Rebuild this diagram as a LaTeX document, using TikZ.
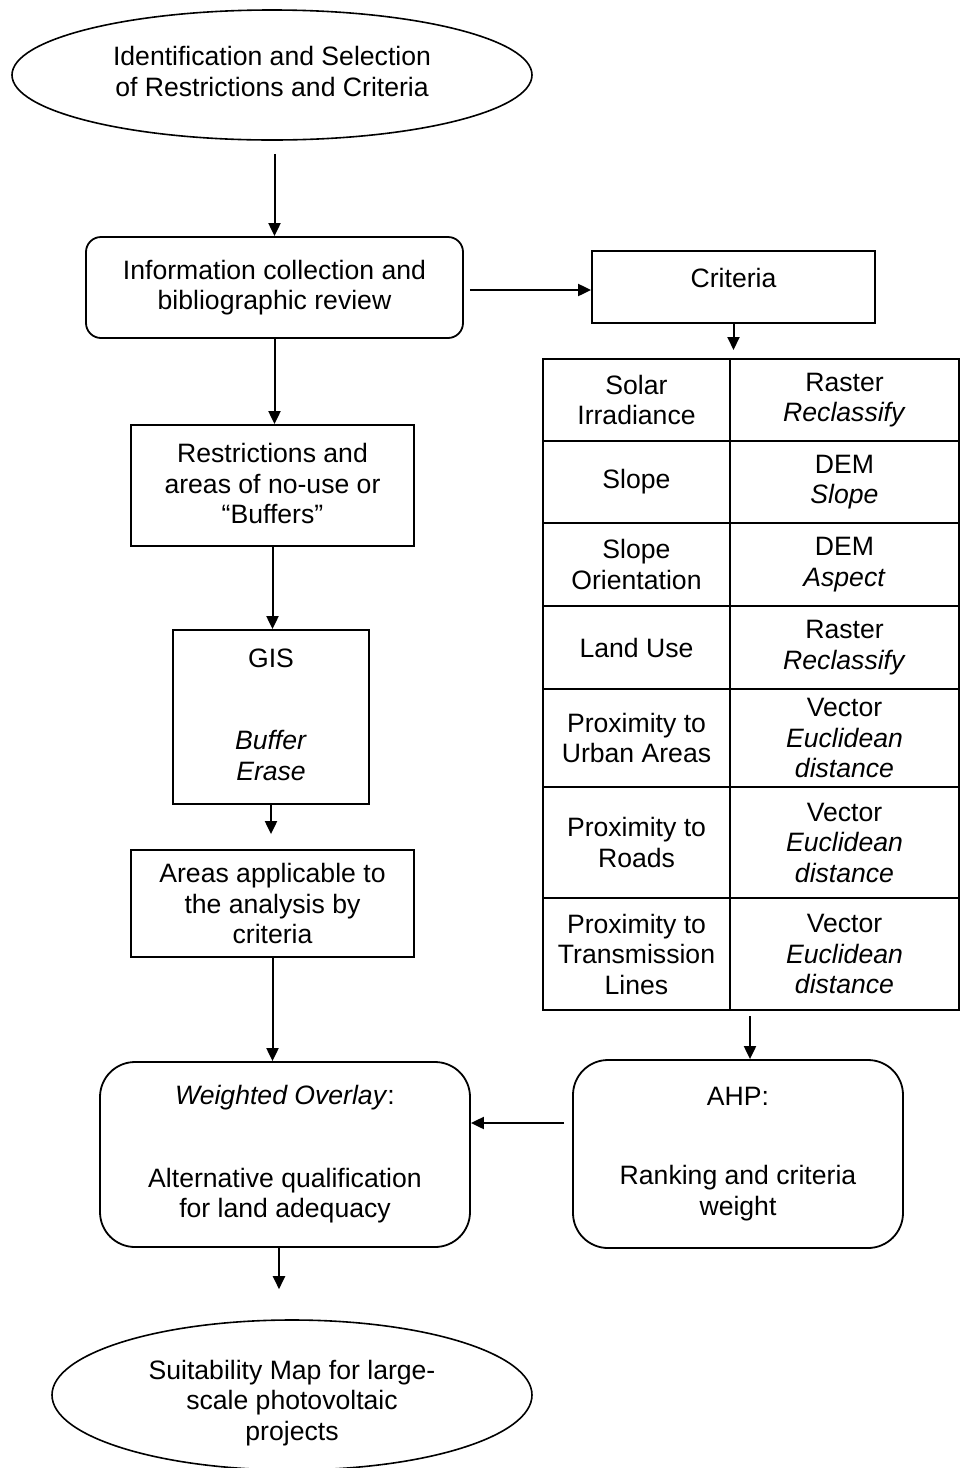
\documentclass[tikz,border=0pt]{standalone}
\usepackage{fontspec}
\setmainfont{Liberation Sans}
\usetikzlibrary{shapes.geometric,arrows.meta}
\begin{document}
\begin{tikzpicture}[x=1pt,y=-1pt,
  every node/.style={font=\fontsize{26.6}{30.5}\selectfont, align=center, inner sep=0pt},
  box/.style={draw, line width=1.8pt, rectangle},
  rbox/.style={box, rounded corners=#1},
  oval/.style={draw, line width=1.6pt, ellipse},
  cell/.style={draw, line width=2pt, rectangle, inner sep=0pt},
  cola/.style={cell, minimum width=187pt},
  colb/.style={cell, minimum width=229pt},
  arr/.style={line width=2pt, -{Triangle[length=13pt,width=12pt]}},
]
\useasboundingbox (0,0) rectangle (961,1468);

% left column
\node[oval, minimum width=520pt, minimum height=130pt, text depth=7pt] (top) at (272,75)
  {Identification and Selection\\of Restrictions and Criteria};
\node[rbox=15pt, minimum width=377pt, minimum height=101pt] (info) at (274.5,287.5)
  {Information collection and\\bibliographic review};
\node[box, minimum width=283pt, minimum height=72pt, text depth=18pt] (crit) at (733.5,287)
  {Criteria};
\node[box, minimum width=283pt, minimum height=121pt, text depth=4pt] (restr) at (272.5,485.5)
  {Restrictions and\\areas of no-use or\\“Buffers”};
\node[box, minimum width=196pt, minimum height=174pt, text depth=5pt] (gis) at (271,717)
  {GIS\\[52pt]\textit{Buffer}\\\textit{Erase}};
\node[box, minimum width=283pt, minimum height=107pt] (areas) at (272.5,903.5)
  {Areas applicable to\\the analysis by\\criteria};
\node[rbox=35pt, minimum width=370pt, minimum height=185pt] (wo) at (285,1154.5)
  {\textit{Weighted Overlay}:\\[52pt]Alternative qualification\\for land adequacy};
\node[rbox=35pt, minimum width=330pt, minimum height=188pt] (ahp) at (738,1154)
  {AHP:\\[49pt]Ranking and criteria\\weight};
\node[oval, minimum width=480pt, minimum height=150pt] (suit) at (292,1395)
  {\rule{0pt}{35pt}Suitability Map for large-\\scale photovoltaic\\projects};

% table
\node[cola, minimum height=82pt] (r1c1) at (636.5,400) {Solar\\Irradiance};
\node[colb, minimum height=82pt] (r1c2) at (844.5,400) {Raster\\\textit{Reclassify}};
\node[cola, minimum height=82pt] (r2c1) at (636.5,482) {Slope};
\node[colb, minimum height=82pt] (r2c2) at (844.5,482) {DEM\\\textit{Slope}};
\node[cola, minimum height=83pt] (r3c1) at (636.5,564.5) {Slope\\Orientation};
\node[colb, minimum height=83pt] (r3c2) at (844.5,564.5) {DEM\\\textit{Aspect}};
\node[cola, minimum height=83pt] (r4c1) at (636.5,647.5) {Land Use};
\node[colb, minimum height=83pt] (r4c2) at (844.5,647.5) {Raster\\\textit{Reclassify}};
\node[cola, minimum height=98pt] (r5c1) at (636.5,738) {Proximity to\\Urban Areas};
\node[colb, minimum height=98pt] (r5c2) at (844.5,738) {Vector\\\textit{Euclidean}\\\textit{distance}};
\node[cola, minimum height=111pt] (r6c1) at (636.5,842.5) {Proximity to\\Roads};
\node[colb, minimum height=111pt] (r6c2) at (844.5,842.5) {Vector\\\textit{Euclidean}\\\textit{distance}};
\node[cola, minimum height=112pt] (r7c1) at (636.5,954) {Proximity to\\Transmission\\Lines};
\node[colb, minimum height=112pt] (r7c2) at (844.5,954) {Vector\\\textit{Euclidean}\\\textit{distance}};

% connectors
\draw[arr, shorten <=13pt] (top.south -| info.north) -- (info.north);
\draw[arr, shorten <=6pt] ([yshift=-2.5pt]info.east) -- ([yshift=-2.5pt]info.east -| crit.west);
\draw[arr, shorten >=8pt] (crit.south) -- (crit.south |- r1c2.north);
\draw[arr] (info.south) -- (info.south |- restr.north);
\draw[arr] (restr.south) -- (restr.south |- gis.north);
\draw[arr, shorten >=15pt] (gis.south) -- (gis.south |- areas.north);
\draw[arr] (areas.south) -- (areas.south |- wo.north);
\draw[arr, shorten <=5pt] ([xshift=12pt]ahp.north |- r7c2.south) -- ([xshift=12pt]ahp.north);
\draw[arr, shorten <=8pt] ([yshift=31pt]ahp.west) -- ([yshift=31pt]ahp.west -| wo.east);
\draw[arr, shorten >=30pt] ([xshift=-6pt]wo.south) -- ([xshift=-6pt]wo.south |- suit.north);
\end{tikzpicture}
\end{document}
